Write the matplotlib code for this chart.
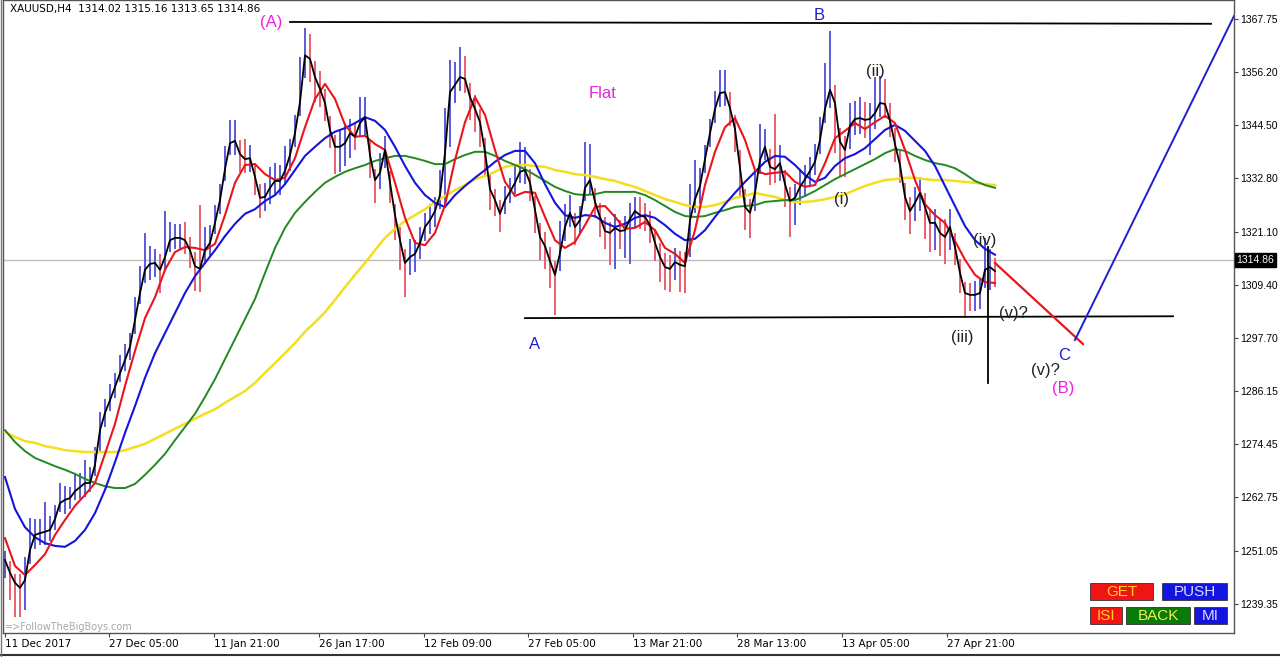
import numpy as np
import matplotlib.pyplot as plt
from matplotlib.patches import Rectangle

# XAUUSD H4 - one sample = 3 bars of the chart
close = [
    1249.0, 1246.2, 1244.0, 1242.9, 1244.6, 1251.2, 1254.5, 1254.9, 1255.2, 1255.6,
    1258.0, 1261.5, 1262.2, 1262.6, 1264.1, 1265.0, 1265.9, 1265.9, 1269.9, 1277.5,
    1281.3, 1284.1, 1287.0, 1290.0, 1292.9, 1295.8, 1301.7, 1307.6, 1312.7, 1314.0,
    1314.2, 1312.7, 1315.5, 1319.2, 1319.7, 1319.7, 1319.2, 1317.0, 1313.5, 1312.9,
    1317.0, 1318.6, 1323.0, 1328.0, 1334.8, 1340.5, 1341.0, 1338.1, 1337.0, 1337.2,
    1333.1, 1328.5, 1328.7, 1330.7, 1332.2, 1332.2, 1334.4, 1337.9, 1342.7, 1349.5,
    1359.8, 1359.0, 1355.0, 1352.4, 1349.3, 1343.4, 1339.7, 1339.7, 1340.5, 1342.7,
    1341.9, 1344.9, 1346.2, 1337.9, 1332.4, 1334.0, 1339.0, 1331.8, 1324.7, 1319.2,
    1314.2, 1315.5, 1316.2, 1318.6, 1322.1, 1323.6, 1325.6, 1329.1, 1338.3, 1351.7,
    1353.3, 1355.0, 1354.6, 1350.6, 1348.0, 1345.1, 1338.6, 1330.4, 1328.0, 1325.0,
    1328.0, 1329.8, 1331.8, 1334.2, 1334.6, 1331.8, 1325.8, 1319.9, 1317.9, 1314.6,
    1311.6, 1316.4, 1322.1, 1325.2, 1322.1, 1323.6, 1330.7, 1332.4, 1327.6, 1324.3,
    1321.2, 1320.8, 1321.9, 1321.2, 1321.4, 1323.9, 1325.6, 1324.7, 1324.3, 1322.5,
    1318.6, 1315.5, 1313.3, 1312.9, 1314.4, 1313.8, 1313.5, 1323.6, 1328.2, 1331.1,
    1337.0, 1342.7, 1348.0, 1351.5, 1351.7, 1348.2, 1343.6, 1335.0, 1326.5, 1325.2,
    1329.6, 1336.8, 1339.7, 1335.3, 1334.8, 1336.1, 1331.5, 1327.8, 1328.5, 1330.9,
    1332.6, 1334.4, 1336.4, 1341.2, 1348.0, 1352.2, 1349.3, 1340.8, 1339.0, 1344.3,
    1345.8, 1346.0, 1345.6, 1345.8, 1347.1, 1349.3, 1349.1, 1345.4, 1340.3, 1335.7,
    1328.7, 1325.6, 1327.4, 1329.6, 1326.5, 1323.0, 1323.0, 1320.8, 1319.9, 1322.1,
    1317.7, 1312.0, 1307.6, 1307.2, 1307.2, 1307.6, 1312.7, 1313.3, 1312.4,
]
# how far the bars reach above / below the black line
bar_up = [
    2.0, 2.5, 2.0, 3.0, 5.0, 7.0, 3.5, 3.0, 6.5, 3.0,
    3.0, 4.5, 3.0, 2.5, 4.0, 3.0, 5.0, 3.5, 4.0, 4.0,
    3.0, 3.5, 3.0, 4.0, 3.5, 3.0, 5.0, 6.0, 8.0, 4.0,
    3.0, 3.5, 10.0, 4.0, 3.0, 3.0, 4.0, 3.0, 3.0, 14.0,
    5.0, 4.0, 4.0, 3.5, 5.0, 5.0, 4.5, 3.0, 4.5, 3.0,
    3.0, 3.0, 3.0, 4.5, 4.0, 3.5, 5.5, 3.5, 4.0, 10.0,
    6.0, 5.5, 3.5, 4.0, 3.0, 3.0, 2.5, 3.5, 4.5, 3.0,
    3.0, 5.7, 4.5, 3.0, 2.5, 4.4, 3.0, 2.5, 2.5, 3.0,
    3.0, 4.0, 3.0, 3.5, 3.0, 3.5, 3.0, 5.5, 10.0, 7.0,
    5.0, 6.5, 5.0, 3.0, 3.0, 3.0, 3.0, 3.0, 2.5, 3.0,
    3.0, 3.0, 4.0, 6.6, 5.0, 3.0, 3.0, 3.0, 3.0, 3.0,
    3.0, 7.0, 5.0, 4.0, 3.0, 3.0, 10.0, 8.0, 3.0, 3.0,
    3.0, 2.5, 3.0, 2.5, 3.0, 3.5, 3.0, 4.0, 3.0, 3.0,
    3.0, 3.0, 3.0, 3.0, 3.0, 3.0, 3.0, 8.0, 8.5, 4.0,
    3.0, 3.0, 4.0, 5.0, 4.8, 3.5, 3.0, 4.0, 4.0, 3.0,
    5.0, 8.0, 4.0, 4.0, 12.0, 4.0, 3.0, 3.0, 3.0, 4.0,
    3.0, 3.0, 4.0, 5.0, 10.0, 13.0, 4.0, 3.0, 3.0, 5.0,
    4.0, 4.6, 4.0, 3.5, 8.0, 6.0, 5.5, 4.0, 3.5, 3.0,
    3.0, 3.0, 3.5, 3.5, 3.0, 3.0, 3.0, 3.0, 4.0, 4.0,
    3.0, 3.0, 2.5, 2.5, 3.0, 3.0, 7.0, 4.0, 3.0,
]
bar_dn = [
    4.0, 6.0, 7.5, 6.5, 6.5, 3.0, 3.0, 2.5, 3.0, 2.5,
    2.5, 2.0, 3.0, 2.5, 2.0, 2.5, 3.0, 2.0, 2.5, 5.0,
    3.0, 2.5, 2.5, 2.0, 2.5, 3.0, 3.0, 2.5, 3.0, 3.5,
    3.0, 5.0, 3.0, 2.5, 2.5, 2.5, 3.0, 4.0, 5.5, 5.0,
    3.0, 3.0, 2.5, 3.0, 2.5, 2.5, 3.0, 4.0, 3.0, 3.0,
    4.0, 4.5, 3.0, 3.5, 3.0, 3.0, 3.0, 3.5, 3.0, 3.0,
    5.0, 5.0, 5.5, 4.0, 4.0, 4.0, 6.0, 5.5, 5.0, 5.5,
    3.0, 3.0, 4.0, 5.0, 5.0, 3.5, 4.0, 4.5, 5.5, 6.5,
    7.5, 4.0, 4.0, 3.5, 3.0, 3.0, 3.5, 3.0, 12.0, 12.0,
    4.0, 3.0, 3.0, 5.0, 5.0, 5.5, 5.0, 4.5, 3.5, 4.0,
    3.0, 2.5, 2.5, 2.5, 3.0, 4.0, 5.0, 5.0, 5.0, 6.0,
    8.8, 4.0, 3.0, 3.0, 4.0, 3.0, 3.0, 3.0, 3.5, 4.5,
    4.0, 7.0, 9.0, 4.0, 6.0, 10.0, 3.5, 3.0, 3.0, 4.0,
    4.0, 5.5, 5.0, 5.0, 4.0, 6.0, 6.0, 8.0, 3.0, 4.0,
    3.0, 3.0, 3.0, 3.0, 3.0, 4.0, 5.0, 6.0, 5.0, 5.5,
    4.0, 3.0, 3.0, 4.0, 3.0, 4.0, 5.0, 8.0, 6.0, 4.0,
    4.0, 3.5, 3.0, 3.0, 3.0, 4.0, 11.0, 7.5, 6.0, 5.0,
    3.5, 3.5, 4.0, 8.0, 3.5, 3.0, 3.0, 3.5, 4.0, 4.0,
    5.0, 5.0, 4.0, 4.0, 7.0, 6.5, 6.0, 5.0, 6.0, 5.0,
    4.0, 4.5, 5.5, 3.5, 3.5, 3.5, 4.0, 5.0, 3.5,
]

# moving averages, read every second sample
ma_red = [
    1253.8, 1247.7, 1245.7, 1247.9, 1250.3, 1254.5, 1257.8, 1260.9, 1263.3, 1265.9,
    1272.3, 1278.9, 1287.2, 1294.9, 1302.1, 1306.7, 1312.7, 1316.6, 1317.7, 1317.5,
    1317.0, 1318.4, 1324.7, 1331.8, 1335.7, 1335.9, 1333.7, 1332.4, 1332.9, 1337.2,
    1344.0, 1350.2, 1353.5, 1350.2, 1344.5, 1341.9, 1342.1, 1340.3, 1339.0, 1331.8,
    1324.1, 1318.6, 1318.1, 1320.8, 1326.9, 1336.8, 1345.1, 1350.6, 1346.7, 1339.0,
    1332.0, 1328.9, 1329.8, 1329.6, 1324.3, 1319.2, 1317.5, 1318.8, 1322.5, 1326.5,
    1326.7, 1324.3, 1321.7, 1321.9, 1323.2, 1321.4, 1317.5, 1316.2, 1314.2, 1321.4,
    1331.3, 1338.6, 1344.0, 1346.0, 1341.2, 1334.6, 1333.7, 1334.0, 1334.2, 1332.0,
    1330.9, 1331.3, 1336.1, 1341.6, 1343.2, 1344.9, 1343.6, 1345.1, 1346.5, 1344.9,
    1339.0, 1332.4, 1327.1, 1324.7, 1323.0, 1319.0, 1314.9, 1311.6, 1310.0, 1309.8,
]
ma_blue = [
    1267.2, 1260.2, 1256.2, 1254.0, 1252.7, 1252.1, 1251.9, 1253.2, 1255.6, 1259.3,
    1264.4, 1270.5, 1276.9, 1282.8, 1289.0, 1294.4, 1298.8, 1303.2, 1307.6, 1311.3,
    1314.2, 1317.0, 1320.1, 1322.8, 1325.0, 1326.0, 1327.8, 1329.1, 1331.5, 1334.6,
    1337.7, 1339.7, 1341.6, 1343.0, 1343.8, 1344.9, 1346.2, 1345.4, 1343.4, 1339.7,
    1335.5, 1331.8, 1329.1, 1327.4, 1326.5, 1329.1, 1331.1, 1332.9, 1334.6, 1336.4,
    1337.9, 1338.8, 1338.8, 1336.1, 1331.5, 1327.4, 1324.7, 1324.1, 1324.7, 1324.5,
    1323.0, 1322.1, 1322.8, 1324.1, 1324.7, 1324.1, 1322.5, 1320.6, 1319.2, 1319.5,
    1321.4, 1324.3, 1327.1, 1329.6, 1332.0, 1334.2, 1336.4, 1337.7, 1337.5, 1335.7,
    1333.5, 1332.0, 1332.9, 1335.5, 1337.2, 1338.1, 1339.4, 1341.4, 1343.4, 1344.5,
    1343.2, 1341.0, 1338.8, 1335.5, 1331.1, 1326.7, 1322.3, 1319.2, 1317.3, 1316.0,
]
ma_green = [
    1277.5, 1274.9, 1272.9, 1271.4, 1270.5, 1269.6, 1268.8, 1267.9, 1266.8, 1265.9,
    1265.2, 1264.8, 1264.8, 1265.7, 1267.7, 1269.9, 1272.3, 1275.3, 1278.2, 1281.1,
    1284.8, 1288.7, 1293.1, 1297.5, 1301.9, 1306.3, 1312.0, 1317.5, 1321.9, 1325.2,
    1327.6, 1329.8, 1331.8, 1333.1, 1334.2, 1335.0, 1335.7, 1336.6, 1337.2, 1337.7,
    1337.7, 1337.2, 1336.6, 1335.9, 1335.9, 1337.0, 1337.9, 1338.6, 1338.6, 1337.7,
    1336.6, 1335.7, 1334.8, 1333.5, 1332.2, 1330.9, 1330.0, 1329.3, 1329.1, 1329.3,
    1329.8, 1329.8, 1329.8, 1329.8, 1329.1, 1328.0, 1326.7, 1325.4, 1324.5, 1324.3,
    1324.5, 1325.2, 1325.8, 1326.5, 1326.7, 1326.9, 1327.6, 1327.8, 1328.0, 1328.0,
    1328.9, 1330.0, 1331.3, 1332.6, 1333.7, 1334.8, 1335.9, 1337.0, 1338.3, 1339.2,
    1338.8, 1337.7, 1336.8, 1336.1, 1335.7, 1335.0, 1333.7, 1332.2, 1331.3, 1330.7,
]
ma_yellow = [
    1277.1, 1276.0, 1275.1, 1274.7, 1274.0, 1273.6, 1273.1, 1272.9, 1272.7, 1272.7,
    1272.7, 1272.7, 1273.1, 1273.8, 1274.5, 1275.6, 1276.7, 1277.8, 1278.9, 1280.0,
    1281.1, 1282.1, 1283.5, 1284.8, 1286.1, 1287.9, 1290.1, 1292.2, 1294.4, 1296.6,
    1299.1, 1301.2, 1303.4, 1306.1, 1308.9, 1311.6, 1314.2, 1317.0, 1319.7, 1321.7,
    1323.4, 1324.7, 1326.0, 1327.6, 1328.9, 1330.2, 1331.3, 1332.6, 1333.3, 1334.2,
    1335.3, 1335.7, 1335.7, 1335.5, 1335.3, 1334.6, 1334.2, 1333.7, 1333.5, 1333.1,
    1332.6, 1332.2, 1331.5, 1330.9, 1330.0, 1329.1, 1328.2, 1327.6, 1326.9, 1326.5,
    1326.5, 1326.9, 1327.6, 1328.5, 1328.9, 1329.6, 1329.1, 1328.7, 1328.0, 1327.6,
    1327.6, 1327.8, 1328.2, 1328.7, 1329.3, 1330.2, 1331.1, 1331.8, 1332.4, 1332.6,
    1332.9, 1332.9, 1332.6, 1332.4, 1332.4, 1332.2, 1332.0, 1331.8, 1331.5, 1331.3,
]

date_labels = ['11 Dec 2017', '27 Dec 05:00', '11 Jan 21:00', '26 Jan 17:00', '12 Feb 09:00',
               '27 Feb 05:00', '13 Mar 21:00', '28 Mar 13:00', '13 Apr 05:00', '27 Apr 21:00']
date_pos = [0, 20.8, 41.8, 62.8, 83.8, 104.6, 125.6, 146.4, 167.4, 188.4]
price_ticks = [1239.35, 1251.05, 1262.75, 1274.45, 1286.15, 1297.70,
               1309.40, 1321.10, 1332.80, 1344.50, 1356.20, 1367.75]
last_price = 1314.86

# wave counts: text, x, price, colour
waves = [
    ('(A)', 53.2, 1366.9, '#F020E0'),
    ('B', 162.8, 1368.6, '#1E1ED2'),
    ('Flat', 119.6, 1351.5, '#F020E0'),
    ('A', 106.0, 1296.4, '#1E1ED2'),
    ('(ii)', 174.0, 1356.3, '#222222'),
    ('(i)', 167.4, 1328.2, '#222222'),
    ('(iv)', 196.0, 1319.2, '#222222'),
    ('(iii)', 191.4, 1297.9, '#222222'),
    ('(v)?', 201.6, 1303.0, '#222222'),
    ('C', 211.8, 1293.8, '#1E1ED2'),
    ('(v)?', 208.0, 1290.7, '#222222'),
    ('(B)', 211.6, 1286.7, '#F020E0'),
]

fig = plt.figure(figsize=(12.8, 6.57), dpi=100)
ax = fig.add_axes([3 / 1280, 24 / 657, 1231 / 1280, 633 / 657])

x = np.arange(len(close))
c = np.array(close)
hi = c + np.array(bar_up)
lo = c - np.array(bar_dn)
cols = ['#5A5AD8' if i == 0 or c[i] >= c[i - 1] else '#E8606E' for i in range(len(c))]
ax.vlines(x, lo, hi, colors=cols, lw=1.4, zorder=2)

ax.axhline(last_price, color='#BDBDBD', lw=1, zorder=1)

mx = np.arange(0, len(close), 2)
ax.plot(mx, ma_yellow, color='#F5DE1E', lw=1.8, zorder=3)
ax.plot(mx, ma_green, color='#21891F', lw=1.4, zorder=3)
ax.plot(mx, ma_blue, color='#1414DC', lw=1.5, zorder=4)
ax.plot(mx, ma_red, color='#E8161C', lw=1.5, zorder=5)
ax.plot(x, close, color='black', lw=1.3, zorder=6)

# drawn lines
ax.plot([57, 241.2], [1367.1, 1366.7], color='black', lw=1.3, zorder=7)
ax.plot([104, 233.6], [1302.1, 1302.5], color='black', lw=1.3, zorder=7)
ax.plot([196.6, 196.6], [1317.7, 1287.9], color='black', lw=1.3, zorder=7)
ax.plot([198, 215.6], [1314.2, 1296.4], color='#E8161C', lw=1.6, zorder=7)
ax.plot([214, 245.8], [1297.3, 1368.4], color='#1E1ED2', lw=1.4, zorder=7)

for txt, tx, ty, col in waves:
    ax.text(tx, ty, txt, color=col, fontsize=12, family='Liberation Sans',
            ha='center', va='center', zorder=8)

ax.text(1, 1369.9, 'XAUUSD,H4  1314.02 1315.16 1313.65 1314.86', fontsize=7.5,
        color='black', ha='left', va='center')
ax.text(0, 1234.4, '=>FollowTheBigBoys.com', fontsize=7, color='#A8A8A8',
        ha='left', va='center')

ax.set_xlim(-0.4, 245.8)
ax.set_ylim(1232.98, 1371.92)

ax.yaxis.tick_right()
ax.set_yticks(price_ticks)
ax.set_yticklabels(['%.2f' % p for p in price_ticks], family='Liberation Sans')
ax.set_xticks(date_pos)
ax.set_xticklabels(date_labels, ha='left')
ax.tick_params(axis='both', labelsize=7.5, length=3, width=0.8, color='#444444', pad=1.5)
for sp in ax.spines.values():
    sp.set_color('#555555')
    sp.set_linewidth(1)

# last price marker on the scale
ax.text(1.002, last_price, '%.2f' % last_price, transform=ax.get_yaxis_transform(),
        fontsize=7.5, family='Liberation Sans', color='white', ha='left', va='center',
        bbox=dict(boxstyle='square,pad=0.15', fc='black', ec='black'))

# MT4 buttons
buttons = [
    ('GET', 1090, 583, 63, 17, '#F01414', '#FFD21E'),
    ('PUSH', 1162, 583, 65, 17, '#1414E0', '#D8D8FF'),
    ('ISI', 1090, 607, 32, 17, '#F01414', '#FFD21E'),
    ('BACK', 1126, 607, 64, 17, '#0A7A0A', '#F0F050'),
    ('MI', 1194, 607, 33, 17, '#1414E0', '#D8D8FF'),
]
for label, bx, by, bw, bh, fc, tc in buttons:
    fig.add_artist(Rectangle((bx / 1280, 1 - (by + bh) / 657), bw / 1280, bh / 657,
                             transform=fig.transFigure, fc=fc, ec='#333333', lw=0.6))
    fig.text((bx + bw / 2) / 1280, 1 - (by + bh / 2) / 657, label, color=tc,
             fontsize=11, family='Liberation Sans', ha='center', va='center')

fig.add_artist(plt.Line2D([0, 1], [2 / 657, 2 / 657], transform=fig.transFigure,
                          color='#333333', lw=1.5))
fig.add_artist(plt.Line2D([1 / 1280, 1 / 1280], [0, 1], transform=fig.transFigure,
                          color='#777777', lw=1))

fig.savefig('out.png', dpi=100)
